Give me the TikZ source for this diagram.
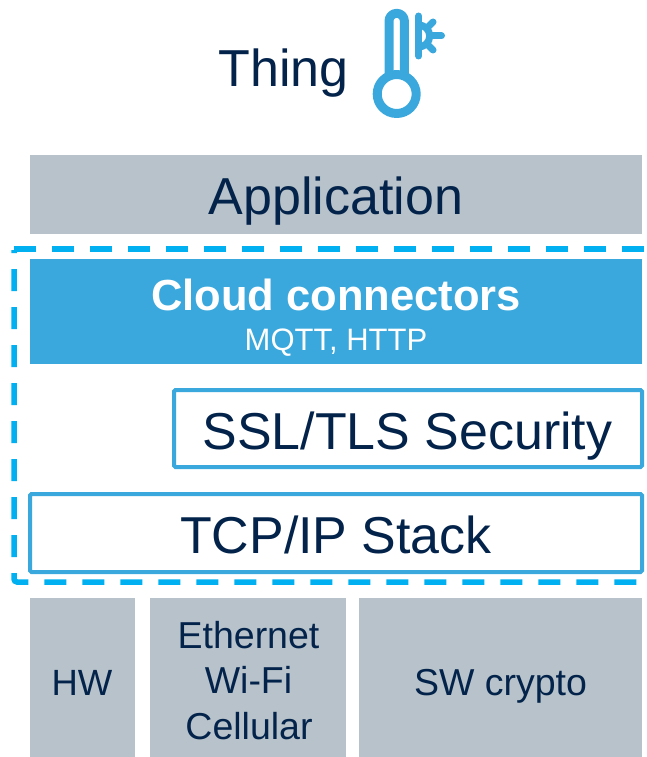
\documentclass[tikz,border=0pt]{standalone}
\usepackage{fontspec}
\setmainfont{Liberation Sans}
\definecolor{navy}{HTML}{03234B}
\definecolor{stblue}{HTML}{3AA8DC}
\definecolor{dashblue}{HTML}{00B0F0}
\definecolor{slate}{HTML}{B7C2CA}
\newcommand{\fs}[1]{\fontsize{#1}{#1}\selectfont}
\tikzset{
  x=1pt,y=-1pt,
  fillbox/.style={draw=none,fill=slate,inner sep=0pt,outer sep=0pt},
  cloudbox/.style={draw=none,fill=stblue,inner sep=0pt,outer sep=0pt},
  linebox/.style={draw=stblue,fill=white,line width=4pt,rounded corners=1.5pt,inner sep=0pt,outer sep=0pt},
  txt/.style={anchor=base,inner sep=0pt,outer sep=0pt,text=navy,align=center},
  wtxt/.style={anchor=base,inner sep=0pt,outer sep=0pt,text=white},
  dashline/.style={draw=dashblue,line width=5.5pt,dash pattern=on 22pt off 16pt},
  icon/.style={draw=stblue,line cap=round,line join=round}
}
\newcommand{\boxat}[6]{\node[#1,minimum width=#4-#2,minimum height=#5-#3] (#6) at ({(#2+#4)/2},{(#3+#5)/2}) {};}
\begin{document}
\begin{tikzpicture}
\useasboundingbox (0,0) rectangle (646,757);
% boxes
\boxat{fillbox}{30}{155}{642}{234}{app}
\boxat{cloudbox}{30}{259}{642}{364}{cloud}
\boxat{linebox}{174}{390}{642}{467}{ssl}
\boxat{linebox}{30}{494}{642}{572}{tcp}
\boxat{fillbox}{30}{598}{135}{757}{hw}
\boxat{fillbox}{150}{598}{346}{757}{net}
\boxat{fillbox}{359}{598}{642}{757}{crypto}
% dashed frame
\begin{scope}
\clip (0,0) rectangle (646,757);
\draw[dashline] (14,249) -- (660,249);
\draw[dashline,dash phase=19pt,rounded corners=3pt] (14,250) -- (14,582) -- (660,582);
\end{scope}
% texts
\node[txt,font=\fs{52}] (thing) at (283.5,87) {Thing};
\node[txt,font=\fs{52}] (apptext) at (335.8,214) {Application};
\node[wtxt,font=\fs{43.5}\bfseries] (cloudtext) at (336,310) {Cloud connectors};
\node[wtxt,font=\fs{31}] (mqtt) at (336,350) {MQTT, HTTP};
\node[txt,font=\fs{51.9}] (ssltext) at (407.5,449) {SSL/TLS Security};
\node[txt,font=\fs{51.9}] (tcptext) at (336,553) {TCP/IP Stack};
\node[txt,font=\fs{36.5}] (hwtext) at (82,695) {HW};
\node[txt,font=\fs{37.5}] (eth) at (248.5,648) {Ethernet};
\node[txt,font=\fs{37.5}] (wifi) at (248.5,693) {Wi-Fi};
\node[txt,font=\fs{37.5}] (cell) at (249,739) {Cellular};
\node[txt,font=\fs{37.5}] (cryptotext) at (500.5,695) {SW crypto};
% thermometer icon
\draw[icon,line width=9pt,line cap=butt]
  (389,74) -- (389,21) arc[start angle=180,end angle=0,x radius=7.7,y radius=-7.7] -- (404.4,74);
\draw[icon,line width=9pt] (396.7,94) circle[radius=19.5];
% snowflake
\draw[icon,line width=7pt] (418.7,16) -- (418.7,56);
\draw[icon,line width=7pt,line cap=butt] (418.7,25) arc[start angle=90,end angle=-90,x radius=11,y radius=-11];
\draw[icon,line width=7pt] (429.7,36) -- (441.5,36);
\draw[icon,line width=7pt] (427,28) -- (433,22);
\draw[icon,line width=7pt] (427,44) -- (433,50);
\end{tikzpicture}
\end{document}
